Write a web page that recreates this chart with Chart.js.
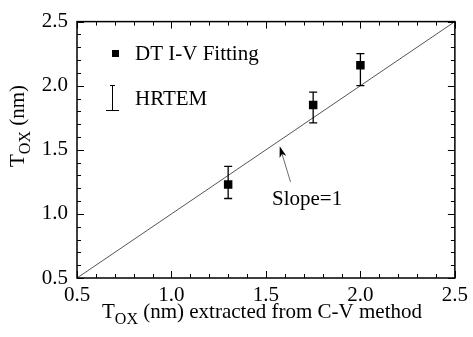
<!DOCTYPE html>
<html>
<head>
<meta charset="utf-8">
<script src="https://cdn.jsdelivr.net/npm/chart.js@4"></script>
<style>
	html, body { margin: 0; padding: 0; background: #fff; }
	#wrap { width: 473px; height: 337px; }
</style>
</head>
<body>
<div id="wrap"><canvas id="myChart"></canvas></div>
<script>
const FONT = '"Liberation Serif", serif';

// C-V extracted thickness vs DT I-V fitting
const cvTox = [1.30, 1.75, 2.00];
const ivTox = [1.23, 1.85, 2.16];
// HRTEM ranges
const hrtemLow = [1.12, 1.71, 2.00];
const hrtemHigh = [1.37, 1.95, 2.25];
// slope = 1 reference line
const refX = [0.5, 2.5];
const refY = [0.5, 2.5];
// arrow pointing at the line: [tail, head]
const arrowX = [1.63, 1.573];
const arrowY = [1.25, 1.527];

const xTicks = [0.5, 1.0, 1.5, 2.0, 2.5];
const yTicks = [0.5, 1.0, 1.5, 2.0, 2.5];

const CANVAS = document.getElementById('myChart');

const decor = {
	id: 'decor',
	afterDatasetsDraw(chart) {
		const { ctx, chartArea: a, scales: { x, y } } = chart;
		ctx.save();

		// HRTEM error bars
		ctx.strokeStyle = '#000';
		ctx.lineWidth = 1.3;
		for (let i = 0; i < cvTox.length; i++) {
			const px = x.getPixelForValue(cvTox[i]);
			const top = y.getPixelForValue(hrtemHigh[i]);
			const bot = y.getPixelForValue(hrtemLow[i]);
			ctx.beginPath();
			ctx.moveTo(px, top); ctx.lineTo(px, bot);
			ctx.moveTo(px - 4, top); ctx.lineTo(px + 4, top);
			ctx.moveTo(px - 4, bot); ctx.lineTo(px + 4, bot);
			ctx.stroke();
		}

		// frame
		ctx.lineWidth = 1.5;
		ctx.strokeRect(a.left, a.top, a.right - a.left, a.bottom - a.top);

		// inward ticks, every 0.1
		ctx.lineWidth = 1;
		ctx.beginPath();
		for (let k = 0; k <= 20; k++) {
			const v = 0.5 + k * 0.1;
			const len = k % 5 === 0 ? 7 : 4;
			const px = Math.round(x.getPixelForValue(v)) + 0.5;
			ctx.moveTo(px, a.bottom); ctx.lineTo(px, a.bottom - len);
			ctx.moveTo(px, a.top); ctx.lineTo(px, a.top + len);
			const py = Math.round(y.getPixelForValue(v)) + 0.5;
			ctx.moveTo(a.left, py); ctx.lineTo(a.left + len, py);
			ctx.moveTo(a.right, py); ctx.lineTo(a.right - len, py);
		}
		ctx.stroke();

		// arrow to the line
		const tx = x.getPixelForValue(arrowX[0]), ty = y.getPixelForValue(arrowY[0]);
		const hx = x.getPixelForValue(arrowX[1]), hy = y.getPixelForValue(arrowY[1]);
		const ang = Math.atan2(hy - ty, hx - tx);
		ctx.strokeStyle = '#444';
		ctx.lineWidth = 0.8;
		ctx.beginPath();
		ctx.moveTo(tx, ty); ctx.lineTo(hx - 6 * Math.cos(ang), hy - 6 * Math.sin(ang));
		ctx.stroke();
		ctx.fillStyle = '#000';
		ctx.beginPath();
		ctx.moveTo(hx, hy);
		ctx.lineTo(hx - 11 * Math.cos(ang) + 3.5 * Math.sin(ang), hy - 11 * Math.sin(ang) - 3.5 * Math.cos(ang));
		ctx.lineTo(hx - 8 * Math.cos(ang), hy - 8 * Math.sin(ang));
		ctx.lineTo(hx - 11 * Math.cos(ang) - 3.5 * Math.sin(ang), hy - 11 * Math.sin(ang) + 3.5 * Math.cos(ang));
		ctx.closePath();
		ctx.fill();

		// texts
		ctx.fillStyle = '#000';
		ctx.textBaseline = 'alphabetic';
		ctx.textAlign = 'left';
		ctx.font = '21px ' + FONT;
		ctx.fillText('Slope=1', 272, 205);

		// legend
		ctx.fillRect(112, 50, 7, 7);
		ctx.fillText('DT I-V Fitting', 135, 60);
		ctx.strokeStyle = '#000';
		ctx.lineWidth = 1;
		ctx.beginPath();
		ctx.moveTo(112.5, 85); ctx.lineTo(112.5, 110);
		ctx.moveTo(110, 85.5); ctx.lineTo(115, 85.5);
		ctx.moveTo(106, 110.5); ctx.lineTo(119, 110.5);
		ctx.stroke();
		ctx.fillText('HRTEM', 135, 105);

		// axis titles with subscripts
		const drawSub = (cx, cyBase, parts) => {
			let w = 0;
			parts.forEach(p => { ctx.font = p[1] + 'px ' + FONT; w += ctx.measureText(p[0]).width; });
			let cur = cx - w / 2;
			parts.forEach(p => {
				ctx.font = p[1] + 'px ' + FONT;
				ctx.fillText(p[0], cur, cyBase + p[2]);
				cur += ctx.measureText(p[0]).width;
			});
		};
		drawSub(262, 318, [['T', 21, 0], ['OX', 16, 6], [' (nm) extracted from C-V method', 21, 0]]);

		ctx.save();
		ctx.translate(24, 126);
		ctx.rotate(-Math.PI / 2);
		drawSub(0, 0, [['T', 21, 0], ['OX', 16, 6], [' (nm)', 21, 0]]);
		ctx.restore();

		ctx.restore();
	}
};

new Chart(CANVAS, {
	type: 'scatter',
	data: {
		datasets: [
			{
				type: 'line',
				data: refX.map((v, i) => ({ x: v, y: refY[i] })),
				borderColor: '#555',
				borderWidth: 1,
				pointRadius: 0,
				fill: false
			},
			{
				data: cvTox.map((v, i) => ({ x: v, y: ivTox[i] })),
				pointStyle: 'rect',
				pointRadius: 6,
				backgroundColor: '#000',
				borderColor: '#000',
				borderWidth: 0
			}
		]
	},
	options: {
		responsive: true,
		maintainAspectRatio: false,
		animation: false,
		layout: { padding: { top: 21, right: 12, left: 0, bottom: 0 } },
		plugins: {
			legend: { display: false },
			tooltip: { enabled: false }
		},
		scales: {
			x: {
				type: 'linear',
				min: 0.5,
				max: 2.5,
				afterBuildTicks: s => { s.ticks = xTicks.map(v => ({ value: v })); },
				afterFit: s => { s.height = 59; },
				grid: { display: false, drawTicks: false },
				border: { display: false },
				ticks: {
					padding: 5,
					color: '#000',
					font: { family: FONT, size: 21 },
					maxRotation: 0,
					callback: v => v.toFixed(1)
				}
			},
			y: {
				type: 'linear',
				min: 0.5,
				max: 2.5,
				afterBuildTicks: s => { s.ticks = yTicks.map(v => ({ value: v })); },
				afterFit: s => { s.width = 77; },
				grid: { display: false, drawTicks: false },
				border: { display: false },
				ticks: {
					padding: 9,
					color: '#000',
					font: { family: FONT, size: 21 },
					callback: v => v.toFixed(1)
				}
			}
		}
	},
	plugins: [decor]
});
</script>
</body>
</html>
